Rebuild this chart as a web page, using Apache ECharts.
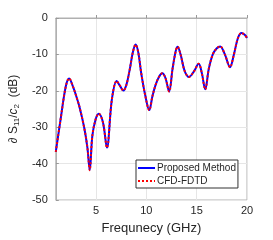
<!DOCTYPE html>
<html><head><meta charset="utf-8">
<script src="https://cdn.jsdelivr.net/npm/echarts@6/dist/echarts.min.js"></script>
<style>html,body{margin:0;padding:0;background:#fff}#c{width:273px;height:240px}</style>
</head><body><div id="c"></div>
<script>
var freq = [1, 1.5, 2, 2.33, 2.7, 3.0, 3.33, 3.82, 4.14, 4.37, 4.63, 4.96, 5.27, 5.69, 6.08, 6.57, 7.05, 7.35, 7.72, 8.02, 8.35, 8.65, 8.93, 9.2, 9.48, 9.87, 10.29, 10.6, 10.9, 11.25, 11.58, 11.9, 12.26, 12.6, 12.9, 13.1, 13.4, 13.8, 14.24, 14.7, 15.2, 15.5, 15.85, 16.2, 16.6, 17.0, 17.34, 17.8, 18.31, 18.7, 19.1, 19.45, 19.8, 20];
var proposed = [-36.8, -27.4, -18.7, -16.6, -18.8, -21.2, -24.2, -30.1, -35.6, -41.8, -32.4, -27.8, -26.3, -28.7, -35.6, -22.4, -17.3, -18.5, -19.9, -18.3, -14.1, -9.5, -7.3, -9.5, -15, -21, -25.3, -21.5, -18.5, -16.2, -15.2, -16.5, -20.2, -14, -9.3, -7.9, -10, -14.5, -16.2, -14.8, -12.6, -15, -19.6, -14, -10, -8.3, -7.8, -10, -13.5, -10, -5.5, -4.1, -4.7, -5.5];
var cfd = proposed.slice();
var xTicks = [5, 10, 15, 20];
var seriesNames = ['Proposed Method', 'CFD-FDTD'];

function pairs(xs, ys){ return xs.map(function(x,i){ return [x, ys[i]]; }); }
var txt = '#262626', grid = '#e6e6e6';
var chart = echarts.init(document.getElementById('c'));
chart.setOption({
  animation: false,
  textStyle: {fontFamily: 'Liberation Sans, Arial, sans-serif'},
  grid: {left: 51, right: 26, top: 18, bottom: 39, show: true, borderColor: '#b0b0b0', borderWidth: 1},
  legend: {
    left: 136, top: 160, orient: 'vertical', itemWidth: 17, itemHeight: 8, itemGap: 3,
    padding: [3, 2, 2, 2], backgroundColor: '#fff', borderColor: '#333', borderWidth: 1,
    textStyle: {fontSize: 10, color: txt, padding: [0,0,0,-3]},
    data: [{name: seriesNames[0], icon: 'path://M0,4L17,4L17,6L0,6Z'}, {name: seriesNames[1], icon: 'path://M0,4L2,4L2,6L0,6ZM4,4L6,4L6,6L4,6ZM8,4L10,4L10,6L8,6ZM12,4L14,4L14,6L12,6ZM16,4L17,4L17,6L16,6Z'}]
  },
  xAxis: {
    type: 'value', min: 1, max: 20,
    name: 'Frequnecy (GHz)', nameLocation: 'middle', nameGap: 22,
    nameTextStyle: {fontSize: 13, color: txt},
    axisLine: {lineStyle: {color: '#b0b0b0'}},
    axisTick: {inside: true, length: 3, customValues: xTicks, lineStyle: {color: '#999'}},
    axisLabel: {customValues: xTicks, fontSize: 11, color: txt, margin: 5},
    splitLine: {show: true, lineStyle: {color: grid}}
  },
  yAxis: {
    type: 'value', min: -50, max: 0, interval: 10,
    name: '∂ S{sub|11}/{it|c}{sub|2}  (dB)', nameLocation: 'middle', nameGap: 33, nameRotate: 90,
    nameTextStyle: {fontSize: 12, color: txt, rich: {sub: {fontSize: 8, color: txt, verticalAlign: 'bottom', padding: [6,0,0,0]}, it: {fontSize: 12, fontStyle: 'italic', color: txt}}},
    axisLine: {show: true, lineStyle: {color: '#b0b0b0'}},
    axisTick: {show: true, inside: true, length: 3, lineStyle: {color: '#999'}},
    axisLabel: {fontSize: 11, color: txt, margin: 8},
    splitLine: {show: true, lineStyle: {color: grid}}
  },
  series: [
    {name: seriesNames[0], type: 'line', data: pairs(freq, proposed), smooth: 0.35, showSymbol: false,
     lineStyle: {color: '#0000ff', width: 2}, itemStyle: {color: '#0000ff'}},
    {name: seriesNames[1], type: 'line', data: pairs(freq, cfd), smooth: 0.35, showSymbol: false,
     lineStyle: {color: '#ff0000', width: 2, type: [2, 2]}, itemStyle: {color: '#ff0000'}}
  ]
});
</script></body></html>
